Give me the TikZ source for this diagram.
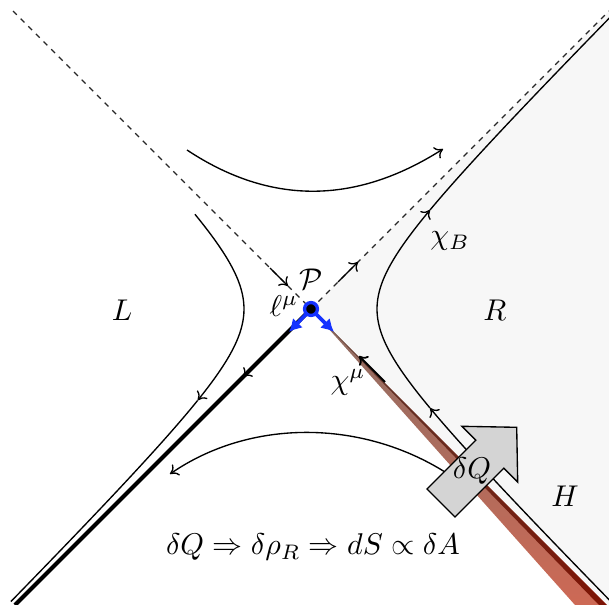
\documentclass[tikz,border=0pt]{standalone}
\usetikzlibrary{arrows.meta}
\begin{document}
\begin{tikzpicture}[x=0.33333pt,y=-0.33333pt,
  >={To[length=2.6pt,width=4.4pt]},
  thinline/.style={line width=0.45pt},
  flow/.style={line width=0.45pt,->},
  nullhalf/.style={line width=0.4pt,dash pattern=on 1.8pt off 1.8pt,black!85},
  bluearrow/.style={color={rgb,255:red,20;green,50;blue,255},line width=1.2pt,-{Latex[length=4.2pt,width=4.6pt]}},
  lab/.style={inner sep=1pt}]
\useasboundingbox (0,0) rectangle (609,605);
\coordinate (P) at (311,309);
\coordinate (NE) at (609,11);
\coordinate (NW) at (13,11);
\coordinate (SE) at (607,605);
\coordinate (SW) at (15,605);
% right wedge shading
\fill[black!3] (P) -- (NE) -- (609,605) -- (SE) -- cycle;
% red band
\shade[top color={rgb,255:red,140;green,110;blue,100}, bottom color={rgb,255:red,205;green,105;blue,85}]
  (P) -- (SE) -- (575,605) -- cycle;
\shade[top color={rgb,255:red,90;green,60;blue,50}, bottom color={rgb,255:red,125;green,20;blue,5}]
  (P) -- (SE) -- (599,605) -- cycle;
% dashed null lines
\draw[nullhalf] (NW) -- (P) -- (NE);
\coordinate (a1s) at (270,268);
\coordinate (a1e) at (288,286);
\coordinate (a2s) at (338,282);
\coordinate (a2e) at (358,262);
\draw[flow] (a1s) -- (a1e);
\draw[flow] (a2s) -- (a2e);
% left hyperbola
\draw[flow] plot[domain=-1.146:1.117,samples=40,smooth] ({311-67*cosh(\x)},{309+67*sinh(\x)});
\draw[thinline] plot[domain=1.117:2.18,samples=30,smooth] ({311-67*cosh(\x)},{309+67*sinh(\x)});
% right hyperbola
\draw[flow] plot[domain=-2.19:-1.195,samples=30,smooth] ({311+66*cosh(\x)},{309-66*sinh(\x)});
\draw[flow] plot[domain=-1.195:1.195,samples=40,smooth] ({311+66*cosh(\x)},{309-66*sinh(\x)});
\draw[thinline] plot[domain=1.195:2.19,samples=30,smooth] ({311+66*cosh(\x)},{309-66*sinh(\x)});
% top and bottom flow curves
\coordinate (t1) at (187,150);
\coordinate (t2) at (443,149);
\draw[flow] (t1) .. controls (270,205) and (355,205) .. (t2);
\coordinate (b1) at (445,472);
\coordinate (b2) at (170,474);
\draw[flow] (b1) .. controls (360,419) and (250,419) .. (b2);
% thick null line to the lower left
\draw[line width=1.3pt] (P) -- (SW);
\coordinate (m1) at (251,369);
\coordinate (m2) at (243,377);
\draw[flow] (m1) -- (m2);
% chi^mu arrow
\coordinate (c1) at (385,382);
\coordinate (c2) at (359,356);
\draw[line width=0.6pt,->] (c1) -- (c2);
% delta Q arrow
\draw[thinline,fill=black!17] (427,489) -- (475.8,440.2) -- (461.9,426.3) -- (516.7,427.3)
  -- (517.7,482.1) -- (503.8,468.2) -- (455,517) -- cycle;
\node[lab] (dQ) at (472,471) {$\delta Q$};
% blue vectors and point
\coordinate (bl) at (289,332);
\coordinate (br) at (334,332);
\draw[bluearrow] (P) -- (bl);
\draw[bluearrow] (P) -- (br);
\node[circle,fill=black,draw={rgb,255:red,20;green,50;blue,255},line width=1.1pt,inner sep=0pt,minimum size=4.3pt] (Pn) at (P) {};
% labels
\node[lab] (Plab) at (311,279) {$\mathcal{P}$};
\node[lab] (ell) at (284,306) {$\ell^\mu$};
\node[lab] (chi) at (348,382) {$\chi^\mu$};
\node[lab] (chiB) at (450,241) {$\chi_B$};
\node[lab] (L) at (122,310) {$L$};
\node[lab] (R) at (495,310) {$R$};
\node[lab] (H) at (565,496) {$H$};
\node[lab] (eq) at (313,547) {$\delta Q \Rightarrow \delta\rho_R \Rightarrow dS \propto \delta A$};
\end{tikzpicture}
\end{document}
